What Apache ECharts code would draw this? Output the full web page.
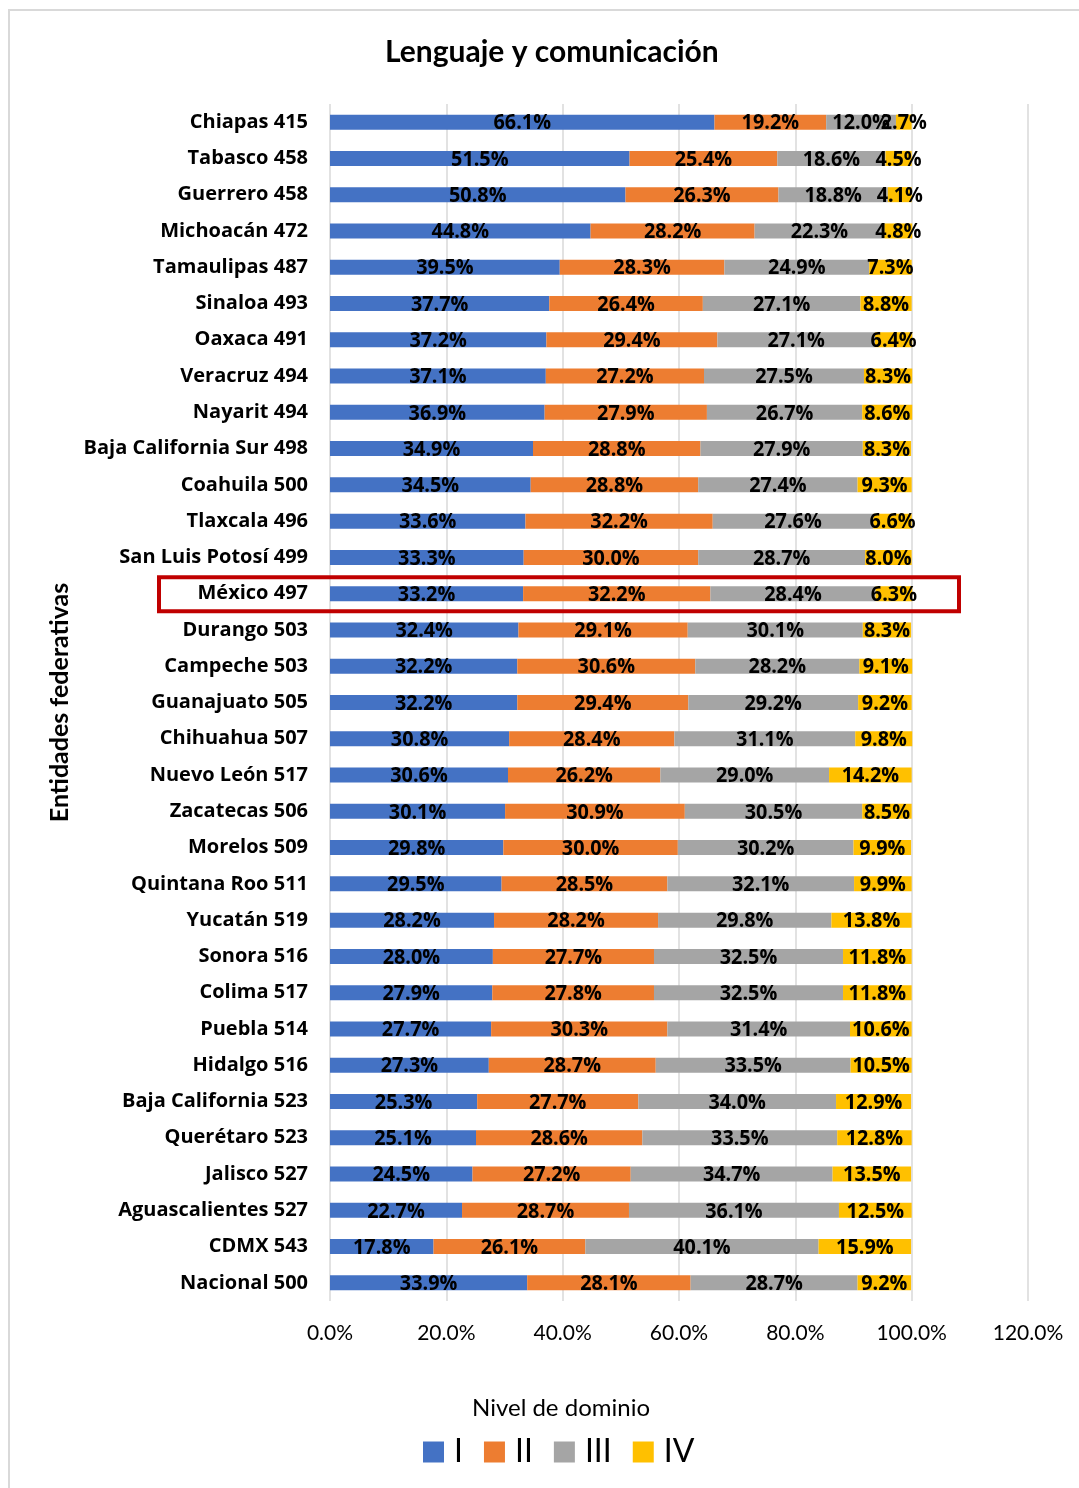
<!DOCTYPE html>
<html>
<head>
<meta charset="utf-8">
<script src="https://cdn.jsdelivr.net/npm/echarts@6/dist/echarts.min.js"></script>
<style>
  html, body { margin: 0; padding: 0; background: #ffffff; }
  #chart { width: 1079px; height: 1488px; }
</style>
</head>
<body>
<div id="chart"></div>
<script>
// Entidades federativas (con puntaje promedio), de arriba hacia abajo
const categories = [
  'Chiapas 415', 'Tabasco 458', 'Guerrero 458', 'Michoacán 472', 'Tamaulipas 487',
  'Sinaloa 493', 'Oaxaca 491', 'Veracruz 494', 'Nayarit 494', 'Baja California Sur 498',
  'Coahuila 500', 'Tlaxcala 496', 'San Luis Potosí 499', 'México 497', 'Durango 503',
  'Campeche 503', 'Guanajuato 505', 'Chihuahua 507', 'Nuevo León 517', 'Zacatecas 506',
  'Morelos 509', 'Quintana Roo 511', 'Yucatán 519', 'Sonora 516', 'Colima 517',
  'Puebla 514', 'Hidalgo 516', 'Baja California 523', 'Querétaro 523', 'Jalisco 527',
  'Aguascalientes 527', 'CDMX 543', 'Nacional 500'
];

// Porcentaje de alumnos por nivel de dominio
const nivelI = [66.1, 51.5, 50.8, 44.8, 39.5, 37.7, 37.2, 37.1, 36.9, 34.9, 34.5, 33.6, 33.3, 33.2, 32.4, 32.2, 32.2, 30.8, 30.6, 30.1, 29.8, 29.5, 28.2, 28.0, 27.9, 27.7, 27.3, 25.3, 25.1, 24.5, 22.7, 17.8, 33.9];
const nivelII = [19.2, 25.4, 26.3, 28.2, 28.3, 26.4, 29.4, 27.2, 27.9, 28.8, 28.8, 32.2, 30.0, 32.2, 29.1, 30.6, 29.4, 28.4, 26.2, 30.9, 30.0, 28.5, 28.2, 27.7, 27.8, 30.3, 28.7, 27.7, 28.6, 27.2, 28.7, 26.1, 28.1];
const nivelIII = [12.0, 18.6, 18.8, 22.3, 24.9, 27.1, 27.1, 27.5, 26.7, 27.9, 27.4, 27.6, 28.7, 28.4, 30.1, 28.2, 29.2, 31.1, 29.0, 30.5, 30.2, 32.1, 29.8, 32.5, 32.5, 31.4, 33.5, 34.0, 33.5, 34.7, 36.1, 40.1, 28.7];
const nivelIV = [2.7, 4.5, 4.1, 4.8, 7.3, 8.8, 6.4, 8.3, 8.6, 8.3, 9.3, 6.6, 8.0, 6.3, 8.3, 9.1, 9.2, 9.8, 14.2, 8.5, 9.9, 9.9, 13.8, 11.8, 11.8, 10.6, 10.5, 12.9, 12.8, 13.5, 12.5, 15.9, 9.2];

const levelNames = ['I', 'II', 'III', 'IV'];
const levelColors = ['#4472C4', '#ED7D31', '#A5A5A5', '#FFC000'];
const highlighted = 'México 497';

const textFont = 'Lato, "Open Sans", sans-serif';
const heavyFont = '"Open Sans", Lato, sans-serif';

const chart = echarts.init(document.getElementById('chart'), null, { renderer: 'canvas' });

function makeBarSeries(name, values, color) {
  return {
    name: name,
    type: 'bar',
    stack: 'total',
    barWidth: 15,
    data: values,
    itemStyle: { color: color },
    emphasis: { disabled: true },
    animation: false
  };
}

// Etiquetas de porcentaje, centradas en cada segmento (texto algo angosto)
const labelSeries = {
  type: 'custom',
  name: 'etiquetas',
  z: 5,
  silent: true,
  animation: false,
  data: categories.map((c, i) => [i, nivelI[i], nivelII[i], nivelIII[i], nivelIV[i]]),
  encode: { y: 0, x: 1 },
  renderItem: function (params, api) {
    const idx = api.value(0);
    let cum = 0;
    const children = [];
    for (let k = 1; k <= 4; k++) {
      const v = api.value(k);
      const p = api.coord([cum + v / 2, idx]);
      cum += v;
      children.push({
        type: 'text',
        x: p[0],
        y: p[1] + 1,
        scaleX: 0.9,
        style: {
          text: v.toFixed(1) + '%',
          font: 'bold 22px "Open Sans", Lato, sans-serif',
          fill: '#000000',
          align: 'center',
          verticalAlign: 'middle'
        }
      });
    }
    return { type: 'group', children: children };
  }
};

const option = {
  backgroundColor: '#ffffff',
  title: {
    text: 'Lenguaje y comunicación',
    left: 380,
    top: 32,
    textStyle: { fontFamily: textFont, fontWeight: 'bold', fontSize: 30, color: '#000000' }
  },
  legend: {
    data: levelNames,
    left: 418,
    top: 1431,
    itemWidth: 21,
    itemHeight: 21,
    itemGap: 21,
    icon: 'rect',
    textStyle: { fontFamily: textFont, fontSize: 32, color: '#000000', padding: [0, 0, 0, 5] }
  },
  grid: { left: 330, right: 51, top: 104, bottom: 187, containLabel: false },
  xAxis: {
    type: 'value',
    min: 0,
    max: 120,
    interval: 20,
    axisLine: { show: false },
    axisTick: { show: false },
    splitLine: { show: true, lineStyle: { color: '#D9D9D9', width: 1.5 } },
    axisLabel: {
      formatter: v => v.toFixed(1) + '%',
      fontFamily: textFont,
      fontSize: 21,
      color: '#000000',
      margin: 22
    },
    name: 'Nivel de dominio',
    nameLocation: 'middle',
    nameGap: 95,
    nameTextStyle: { fontFamily: textFont, fontSize: 24, color: '#000000', padding: [0, 236, 0, 0] }
  },
  yAxis: {
    type: 'category',
    data: categories,
    inverse: true,
    axisLine: { show: false },
    axisTick: { show: false },
    splitLine: { show: false },
    axisLabel: {
      fontFamily: heavyFont,
      fontWeight: 'bold',
      fontSize: 20,
      color: '#000000',
      margin: 22
    },
    name: 'Entidades federativas',
    nameLocation: 'middle',
    nameGap: 258,
    nameRotate: 90,
    nameTextStyle: { fontFamily: textFont, fontWeight: 'bold', fontSize: 25, color: '#000000' }
  },
  series: [
    makeBarSeries(levelNames[0], nivelI, levelColors[0]),
    makeBarSeries(levelNames[1], nivelII, levelColors[1]),
    makeBarSeries(levelNames[2], nivelIII, levelColors[2]),
    makeBarSeries(levelNames[3], nivelIV, levelColors[3]),
    labelSeries
  ],
  animation: false
};

chart.setOption(option);

// Marco del gráfico y recuadro que destaca la entidad
function drawOverlays() {
  const idx = categories.indexOf(highlighted);
  const yCenter = chart.convertToPixel({ yAxisIndex: 0 }, idx);
  chart.setOption({
    graphic: [
      {
        type: 'rect',
        silent: true,
        shape: { x: 9, y: 10, width: 1100, height: 1500 },
        style: { fill: 'none', stroke: '#D9D9D9', lineWidth: 2 }
      },
      {
        type: 'rect',
        silent: true,
        shape: { x: 159, y: yCenter - 16.5, width: 800, height: 34 },
        style: { fill: 'none', stroke: '#C00000', lineWidth: 4 },
        z: 100
      }
    ]
  });
}
drawOverlays();
</script>
</body>
</html>
